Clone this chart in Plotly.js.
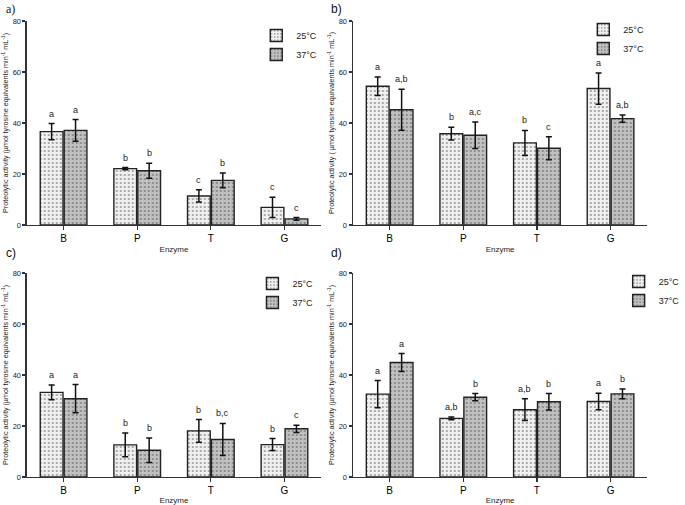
<!DOCTYPE html>
<html>
<head>
<meta charset="utf-8">
<script src="https://cdn.plot.ly/plotly-3.0.1.min.js"></script>
<style>html,body{margin:0;padding:0;background:#fff;}#chart{width:685px;height:505px;}</style>
</head>
<body>
<div id="chart"></div>
<script>
const categories = ['B', 'P', 'T', 'G'];
const seriesNames = ['25°C', '37°C'];

const a25 = [36.6, 22.1, 11.4, 6.9];
const a25err = [3.2, 0.4, 2.4, 4.0];
const a37 = [37.1, 21.3, 17.5, 2.4];
const a37err = [4.25, 2.95, 2.9, 0.5];
const a25letters = ['a', 'b', 'c', 'c'];
const a37letters = ['a', 'b', 'b', 'c'];

const b25 = [54.4, 35.8, 32.2, 53.5];
const b25err = [3.6, 2.5, 4.9, 6.1];
const b37 = [45.2, 35.2, 30.1, 41.7];
const b37err = [8.0, 5.2, 4.55, 1.45];
const b25letters = ['a', 'b', 'b', 'a'];
const b37letters = ['a,b', 'a,c', 'c', 'a,b'];

const c25 = [33.2, 12.6, 18.1, 12.7];
const c25err = [2.9, 4.7, 4.45, 2.35];
const c37 = [30.7, 10.5, 14.7, 18.9];
const c37err = [5.55, 4.8, 6.3, 1.4];
const c25letters = ['a', 'b', 'b', 'b'];
const c37letters = ['a', 'b', 'b,c', 'c'];

const d25 = [32.5, 23.0, 26.4, 29.6];
const d25err = [5.3, 0.5, 4.25, 3.25];
const d37 = [44.9, 31.3, 29.5, 32.6];
const d37err = [3.5, 1.4, 3.2, 1.95];
const d25letters = ['a', 'a,b', 'a,b', 'a'];
const d37letters = ['a', 'b', 'b', 'b'];

const yTicks = [0, 20, 40, 60, 80];
const panelLabels = ['a)', 'b)', 'c)', 'd)'];
const yTitles = [
  'Proteolytic activity (µmol tyrosine equivalents min<sup>-1</sup> mL<sup>-1</sup>)',
  'Proteolytic activity ( µmol tyrosine equivalents min<sup>-1</sup> mL<sup>-1</sup>)',
  'Proteolytic activity (µmol tyrosine equivalents min<sup>-1</sup> mL<sup>-1</sup>)',
  'Proteolytic activity (µmol tyrosine equivalents min<sup>-1</sup> mL<sup>-1</sup>)'
];
const xTitle = 'Enzyme';

const panels = [
  {v25: a25, e25: a25err, v37: a37, e37: a37err, l25: a25letters, l37: a37letters},
  {v25: b25, e25: b25err, v37: b37, e37: b37err, l25: b25letters, l37: b37letters},
  {v25: c25, e25: c25err, v37: c37, e37: c37err, l25: c25letters, l37: c37letters},
  {v25: d25, e25: d25err, v37: d37, e37: d37err, l25: d25letters, l37: d37letters}
];

const W = 685, H = 505;
const xDomains = [[28/W, 336/W], [369/W, 677/W], [28/W, 336/W], [369/W, 677/W]];
const yDomains = [[(H-225)/H, (H-21)/H], [(H-225)/H, (H-21)/H], [(H-477)/H, (H-273)/H], [(H-477)/H, (H-273)/H]];
const legendPos = [[268, 21], [610, 15], [264, 269], [647, 267]];
const labelPos = [[4, 9], [344, 9], [4, 253], [344, 253]];

const bargap = 0.35;
const offset = (1 - bargap) / 4;

const style25 = {color: '#eeeeee', line: {color: '#222', width: 1.4},
  pattern: {shape: '.', fgcolor: '#949494', bgcolor: '#f0f0f0', size: 4, solidity: 0.2}};
const style37 = {color: '#bdbdbd', line: {color: '#222', width: 1.4},
  pattern: {shape: '.', fgcolor: '#7f7f7f', bgcolor: '#c0c0c0', size: 4, solidity: 0.2}};

const traces = [];
const annotations = [];
const layout = {
  width: W, height: H,
  margin: {l: 0, r: 0, t: 0, b: 0},
  paper_bgcolor: '#fff', plot_bgcolor: '#fff',
  barmode: 'group', bargap: bargap, bargroupgap: 0.05,
  font: {family: 'Liberation Sans, Arial, sans-serif', color: '#000000'},
  annotations: annotations
};

panels.forEach((p, i) => {
  const sfx = i === 0 ? '' : String(i + 1);
  const xa = 'x' + sfx, ya = 'y' + sfx;
  const lg = 'legend' + sfx;
  traces.push({
    type: 'bar', x: categories, y: p.v25, name: seriesNames[0], xaxis: xa, yaxis: ya, legend: lg,
    marker: style25,
    error_y: {type: 'data', array: p.e25, visible: true, color: '#111', thickness: 1.5, width: 3}
  });
  traces.push({
    type: 'bar', x: categories, y: p.v37, name: seriesNames[1], xaxis: xa, yaxis: ya, legend: lg,
    marker: style37,
    error_y: {type: 'data', array: p.e37, visible: true, color: '#111', thickness: 1.5, width: 3}
  });
  layout['xaxis' + sfx] = {
    domain: xDomains[i], anchor: ya, type: 'category', range: [-0.5, 3.5],
    showline: true, linecolor: '#333', linewidth: 1.3, ticks: 'outside', ticklen: 4,
    tickcolor: '#333', tickwidth: 1.2, showgrid: false, zeroline: false,
    tickfont: {size: 10, color: '#000000', family: 'Liberation Sans, Arial, sans-serif'},
    title: {text: xTitle, font: {size: 8, color: '#222'}, standoff: 3}
  };
  layout['yaxis' + sfx] = {
    domain: yDomains[i], anchor: xa, range: [0, 80], tickvals: yTicks,
    showline: true, linecolor: '#333', linewidth: 1.3, ticks: 'outside', ticklen: 3,
    tickcolor: '#333', tickwidth: 1.2, showgrid: false, zeroline: false,
    tickfont: {size: 7.5, color: '#222'},
    title: {text: yTitles[i], font: {size: 7.2, color: '#222'}, standoff: 3}
  };
  layout[lg] = {
    x: legendPos[i][0] / W, y: 1 - legendPos[i][1] / H, xanchor: 'left', yanchor: 'top',
    bgcolor: 'rgba(0,0,0,0)', font: {size: 9, color: '#222'}, itemwidth: 30
  };
  categories.forEach((c, k) => {
    annotations.push({xref: xa, yref: ya, x: k - offset, y: p.v25[k] + p.e25[k], text: p.l25[k],
      showarrow: false, yanchor: 'bottom', yshift: 3, font: {size: 9, color: '#222'}});
    annotations.push({xref: xa, yref: ya, x: k + offset, y: p.v37[k] + p.e37[k], text: p.l37[k],
      showarrow: false, yanchor: 'bottom', yshift: 3, font: {size: 9, color: '#222'}});
  });
  annotations.push({xref: 'paper', yref: 'paper', x: labelPos[i][0] / W, y: 1 - labelPos[i][1] / H,
    xanchor: 'left', yanchor: 'middle', text: panelLabels[i], showarrow: false,
    font: {size: 12, color: '#111', family: i === 0 ? 'Liberation Serif, serif' : 'Liberation Sans, Arial, sans-serif'}});
});

Plotly.newPlot('chart', traces, layout, {displayModeBar: false, staticPlot: true});
</script>
</body>
</html>
